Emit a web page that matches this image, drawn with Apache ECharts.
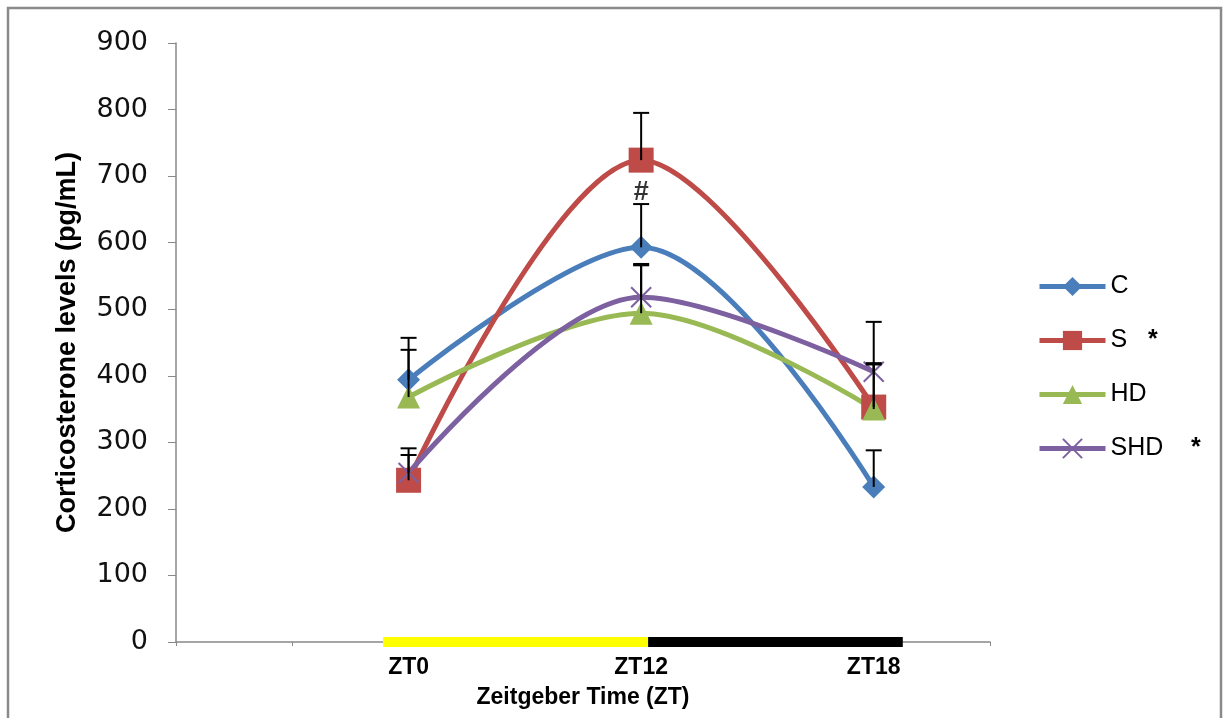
<!DOCTYPE html>
<html>
<head>
<meta charset="utf-8">
<script src="https://cdn.jsdelivr.net/npm/echarts@6/dist/echarts.min.js"></script>
<style>
  html, body { margin: 0; padding: 0; background: #fff; }
  #main { width: 1224px; height: 718px; }
</style>
</head>
<body>
<div id="main"></div>
<script>
// x positions: 8 slots, only three carry a label
var tickLabels = ['', '', 'ZT0', '', 'ZT12', '', 'ZT18', ''];
var timePos = [2, 4, 6];

var seriesNames = ['C', 'S', 'HD', 'SHD'];
var cMean = [394, 593, 233];
var cUpper = [457, 658, 288];
var sMean = [243, 724, 353];
var sUpper = [291, 795, 419];
var hdMean = [368, 494, 350];
var hdUpper = [439, 566, 417];
var shdMean = [254, 518, 406];
var shdUpper = [281, 568, 481];

// light / dark phase bar along the x axis
var lightPhase = [1.78, 4.06];
var darkPhase = [4.06, 6.25];

var hashMark = [4, 676];
var legendStars = { S: '*', SHD: '*' };

var colors = { C: '#4A7EBB', S: '#BE4B48', HD: '#98B954', SHD: '#7D60A0' };
var symbols = {
  C: 'diamond',
  S: 'rect',
  HD: 'triangle',
  SHD: 'path://M0,0L10,10M10,0L0,10'
};
var symbolSizes = { C: 23, S: 25, HD: 23, SHD: 20 };

var means = { C: cMean, S: sMean, HD: hdMean, SHD: shdMean };
var uppers = { C: cUpper, S: sUpper, HD: hdUpper, SHD: shdUpper };

function pairs(xs, ys) {
  var out = [];
  for (var i = 0; i < xs.length; i++) out.push([xs[i], ys[i]]);
  return out;
}

var chart = echarts.init(document.getElementById('main'));

var series = [];

series.push({
  type: 'line', name: 'light', silent: true, symbol: 'none', z: 3,
  data: [[lightPhase[0], 0], [lightPhase[1], 0]],
  lineStyle: { color: '#FFFF00', width: 10, cap: 'butt' }
});
series.push({
  type: 'line', name: 'dark', silent: true, symbol: 'none', z: 3,
  data: [[darkPhase[0], 0], [darkPhase[1], 0]],
  lineStyle: { color: '#000000', width: 10, cap: 'butt' }
});

seriesNames.forEach(function (n) {
  var isCross = n === 'SHD';
  series.push({
    type: 'line',
    name: n,
    data: pairs(timePos, means[n]),
    smooth: 0.33,
    symbol: symbols[n],
    symbolSize: symbolSizes[n],
    z: 4,
    lineStyle: { color: colors[n], width: 5 },
    itemStyle: isCross
      ? { color: colors[n], borderColor: colors[n], borderWidth: 2 }
      : { color: colors[n], borderWidth: 0 }
  });
});

// error bars (upper only)
var errData = [];
seriesNames.forEach(function (n) {
  for (var i = 0; i < timePos.length; i++) {
    errData.push([timePos[i], means[n][i], uppers[n][i]]);
  }
});
series.push({
  type: 'custom',
  name: 'err',
  silent: true,
  z: 6,
  data: errData,
  renderItem: function (params, api) {
    var x = api.value(0);
    var p0 = api.coord([x, api.value(1)]);
    var p1 = api.coord([x, api.value(2)]);
    var half = 8;
    return {
      type: 'group',
      children: [
        { type: 'line', shape: { x1: p0[0], y1: p0[1], x2: p1[0], y2: p1[1] },
          style: { stroke: '#000', lineWidth: 2 } },
        { type: 'line', shape: { x1: p1[0] - half, y1: p1[1], x2: p1[0] + half, y2: p1[1] },
          style: { stroke: '#000', lineWidth: 2 } }
      ]
    };
  }
});

series.push({
  type: 'scatter',
  name: 'hash',
  silent: true,
  symbolSize: 0,
  z: 7,
  data: [hashMark],
  label: {
    show: true, position: 'inside', formatter: '#',
    fontFamily: 'Liberation Sans', fontWeight: 'bold', fontSize: 27, color: '#000'
  }
});

var option = {
  animation: false,
  backgroundColor: '#fff',
  graphic: [{
    type: 'rect',
    shape: { x: 8, y: 8, width: 1213, height: 720 },
    style: { fill: 'none', stroke: '#8a8a8a', lineWidth: 2.5 },
    silent: true
  }],
  grid: { left: 176, right: 234, top: 43, bottom: 76 },
  legend: {
    orient: 'vertical',
    left: 1032,
    top: 269,
    itemWidth: 66,
    itemHeight: 24,
    itemGap: 29,
    data: seriesNames,
    lineStyle: { width: 5 },
    textStyle: {
      fontFamily: 'Liberation Sans', fontSize: 25, color: '#000',
      rich: {
        star: { fontFamily: 'Liberation Sans', fontSize: 25, fontWeight: 'bold', color: '#000' }
      }
    },
    formatter: function (name) {
      if (!legendStars[name]) return name;
      var gap = name.length > 1 ? '    ' : '   ';
      return name + gap + '{star|' + legendStars[name] + '}';
    }
  },
  xAxis: {
    type: 'value',
    min: 0,
    max: 7,
    interval: 1,
    name: 'Zeitgeber Time (ZT)',
    nameLocation: 'middle',
    nameGap: 44,
    nameTextStyle: { fontFamily: 'Liberation Sans', fontWeight: 'bold', fontSize: 23, color: '#000' },
    axisLine: { lineStyle: { color: '#888', width: 1.5 } },
    axisTick: { show: true, length: 4, lineStyle: { color: '#888' } },
    splitLine: { show: false },
    axisLabel: {
      margin: 14,
      fontFamily: 'Liberation Sans', fontWeight: 'bold', fontSize: 23, color: '#000',
      formatter: function (v) { return tickLabels[Math.round(v)] || ''; }
    }
  },
  yAxis: {
    type: 'value',
    min: 0,
    max: 900,
    interval: 100,
    name: 'Corticosterone levels (pg/mL)',
    nameLocation: 'middle',
    nameGap: 95,
    nameTextStyle: { fontFamily: 'Liberation Sans', fontWeight: 'bold', fontSize: 27, color: '#000' },
    axisLine: { show: true, lineStyle: { color: '#888', width: 1.5 } },
    axisTick: { show: true, length: 8, lineStyle: { color: '#888' } },
    splitLine: { show: false },
    axisLabel: {
      margin: 28,
      fontFamily: 'DejaVu Sans', fontSize: 27, color: '#111'
    }
  },
  series: series
};

chart.setOption(option);
</script>
</body>
</html>
